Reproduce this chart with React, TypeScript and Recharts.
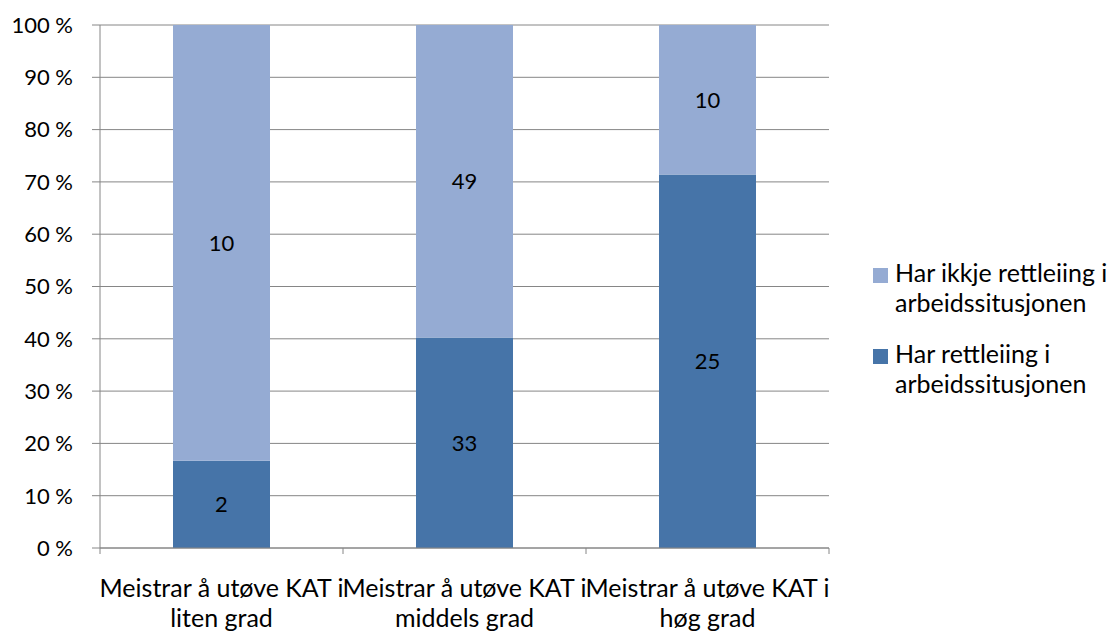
import { BarChart, Bar, XAxis, YAxis, CartesianGrid, LabelList } from "recharts";

const categories = [
  "Meistrar å utøve KAT i liten grad",
  "Meistrar å utøve KAT i middels grad",
  "Meistrar å utøve KAT i høg grad",
];
const harRettleiing = [2, 33, 25];
const harIkkjeRettleiing = [10, 49, 10];
const yTicks = [0, 0.1, 0.2, 0.3, 0.4, 0.5, 0.6, 0.7, 0.8, 0.9, 1];

const seriesNames = {
  med: "Har rettleiing i arbeidssitusjonen",
  utan: "Har ikkje rettleiing i arbeidssitusjonen",
};

const data = categories.map((name, i) => ({
  name,
  med: harRettleiing[i],
  utan: harIkkjeRettleiing[i],
}));

const W = 1107;
const H = 634;
const M = { top: 25, right: 278, bottom: 0, left: 0 };
const Y_W = 100;
const FONT = "Lato, 'Noto Sans', sans-serif";
const AXIS = "#868686";
const DARK = "#4674A8";
const LIGHT = "#95ABD3";

const halfBand = (W - M.left - M.right - Y_W) / categories.length / 2;

// legend top-down order matches the stack (top series first)
const legendItems = [
  { name: seriesNames.utan, color: LIGHT },
  { name: seriesNames.med, color: DARK },
];

function CategoryTick(props: any) {
  const { x, y, payload, index } = props;
  const text: string = payload.value;
  const cut = text.indexOf("KAT i") + 5;
  const lines = [text.slice(0, cut), text.slice(cut + 1)];
  return (
    <g>
      <line x1={x - halfBand} x2={x - halfBand} y1={y} y2={y + 6} stroke={AXIS} />
      {index === categories.length - 1 && (
        <line x1={x + halfBand} x2={x + halfBand} y1={y} y2={y + 6} stroke={AXIS} />
      )}
      {lines.map((l, i) => (
        <text
          key={i}
          x={x}
          y={y + 49 + i * 30}
          textAnchor="middle"
          fontFamily={FONT}
          fontSize={25}
          fill="#000"
        >
          {l}
        </text>
      ))}
    </g>
  );
}

function LegendBox() {
  return (
    <div
      style={{
        position: "absolute",
        left: 873,
        top: 257,
        width: 234,
        fontFamily: FONT,
        fontSize: 25,
        color: "#000",
      }}
    >
      {legendItems.map((it) => {
        const cut = it.name.lastIndexOf(" ");
        return (
          <div key={it.name} style={{ display: "flex", marginBottom: 21, lineHeight: "30px" }}>
            <div
              style={{
                width: 15,
                height: 15,
                background: it.color,
                marginTop: 11,
                marginRight: 7,
                flexShrink: 0,
              }}
            />
            <div style={{ whiteSpace: "nowrap" }}>
              <div>{it.name.slice(0, cut)}</div>
              <div>{it.name.slice(cut + 1)}</div>
            </div>
          </div>
        );
      })}
    </div>
  );
}

export default function App() {
  return (
    <div style={{ position: "absolute", left: 0, top: 0, width: W, height: H, background: "#fff" }}>
      <BarChart width={W} height={H} data={data} margin={M} stackOffset="expand" barSize={97}>
        <CartesianGrid vertical={false} stroke={AXIS} strokeDasharray="" />
        <XAxis
          dataKey="name"
          height={86}
          axisLine={{ stroke: AXIS }}
          tickLine={false}
          tickSize={0}
          tickMargin={0}
          interval={0}
          tick={<CategoryTick />}
        />
        <YAxis
          width={Y_W}
          domain={[0, 1]}
          ticks={yTicks}
          axisLine={{ stroke: AXIS }}
          tickLine={{ stroke: AXIS }}
          tickSize={8}
          tickMargin={19}
          tickFormatter={(v: number) => `${Math.round(v * 100)} %`}
          tick={{ fontFamily: FONT, fontSize: 22, fill: "#000" }}
        />
        <Bar dataKey="med" name={seriesNames.med} stackId="a" fill={DARK} isAnimationActive={false}>
          <LabelList dataKey="med" position="center" fill="#000" fontSize={22} fontFamily={FONT} />
        </Bar>
        <Bar dataKey="utan" name={seriesNames.utan} stackId="a" fill={LIGHT} isAnimationActive={false}>
          <LabelList dataKey="utan" position="center" fill="#000" fontSize={22} fontFamily={FONT} />
        </Bar>
      </BarChart>
      <LegendBox />
    </div>
  );
}
